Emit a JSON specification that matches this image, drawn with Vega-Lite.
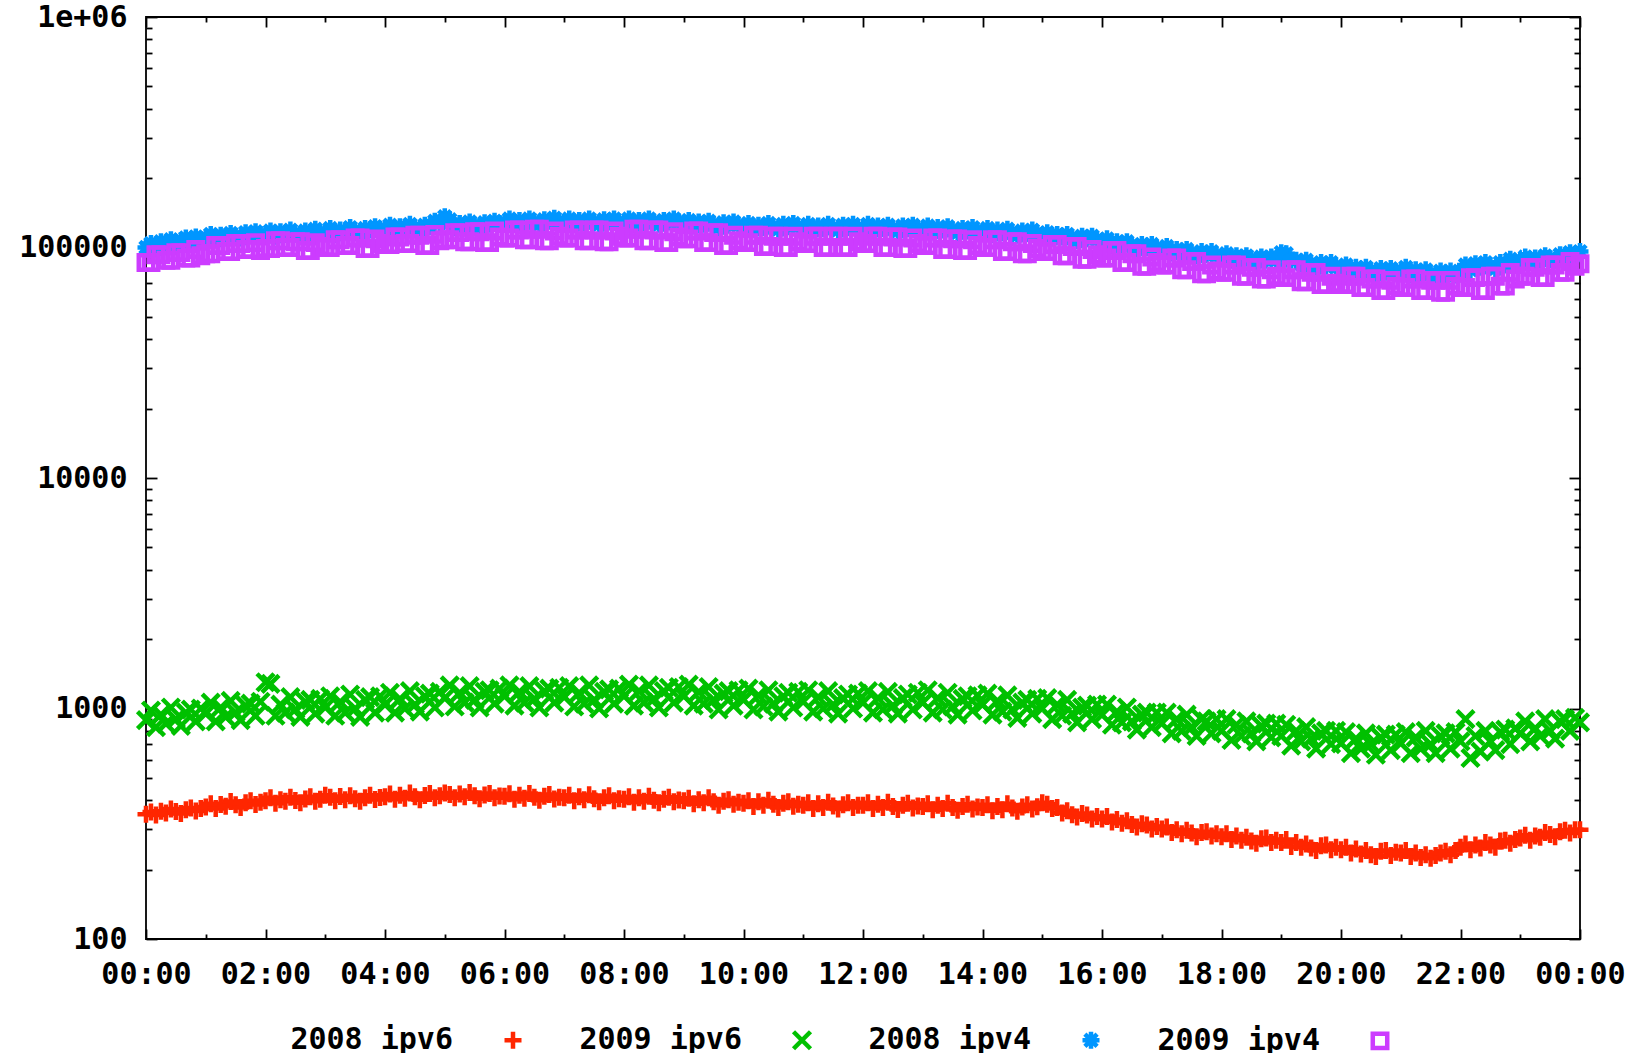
{
"$schema": "https://vega.github.io/schema/vega-lite/v6.json",
"width": 1434, "height": 922,
"autosize": {"type": "none"},
"padding": {"left": 146, "top": 17, "right": 57, "bottom": 114},
"background": "white",
"config": {
  "view": {"stroke": "#000", "strokeWidth": 1.8},
  "axis": {"labelFont": "DejaVu Sans Mono", "labelFontWeight": "bold", "labelFontSize": 30, "labelColor": "#000", "tickColor": "#000", "tickWidth": 1.8, "domain": false, "grid": false, "title": null, "labelFlush": false, "labelOverlap": false, "labelBound": false}
},
"datasets": {
"frame": [{"m": 0, "v": 100}, {"m": 1440, "v": 1000000}],
"traffic": [
{"m":0,"a":348,"b":890,"c":100000,"d":86000},{"m":5,"a":356,"b":980,"c":104000,"d":86000},{"m":10,"a":345,"b":830,"c":99000,"d":93000},{"m":15,"a":358,"b":940,"c":106000,"d":93000},{"m":20,"a":352,"b":860,"c":103000,"d":88000},{"m":25,"a":366,"b":1010,"c":108000,"d":88000},{"m":30,"a":357,"b":900,"c":104000,"d":95000},{"m":35,"a":350,"b":840,"c":107000,"d":95000},{"m":40,"a":364,"b":960,"c":110000,"d":90000},{"m":45,"a":370,"b":990,"c":106000,"d":90000},{"m":50,"a":359,"b":880,"c":111000,"d":98000},{"m":55,"a":368,"b":1000,"c":108000,"d":92000},
{"m":60,"a":374,"b":950,"c":110000,"d":94000},{"m":65,"a":386,"b":1060,"c":114000,"d":94000},{"m":70,"a":368,"b":880,"c":108000,"d":102000},{"m":75,"a":383,"b":1010,"c":113000,"d":102000},{"m":80,"a":377,"b":920,"c":111000,"d":96000},{"m":85,"a":395,"b":1080,"c":115000,"d":96000},{"m":90,"a":382,"b":960,"c":112000,"d":104000},{"m":95,"a":372,"b":890,"c":110000,"d":104000},{"m":100,"a":390,"b":1030,"c":116000,"d":98000},{"m":105,"a":398,"b":1050,"c":113000,"d":98000},{"m":110,"a":383,"b":930,"c":117000,"d":105000},{"m":115,"a":392,"b":1070,"c":114000,"d":97000},
{"m":120,"a":398,"b":1300,"c":114000,"d":99000},{"m":125,"a":410,"b":1280,"c":118000,"d":99000},{"m":130,"a":388,"b":930,"c":112000,"d":107000},{"m":135,"a":402,"b":1040,"c":117000,"d":107000},{"m":140,"a":396,"b":960,"c":114000,"d":100000},{"m":145,"a":412,"b":1120,"c":119000,"d":100000},{"m":150,"a":399,"b":990,"c":115000,"d":106000},{"m":155,"a":390,"b":920,"c":113000,"d":106000},{"m":160,"a":405,"b":1070,"c":118000,"d":97000},{"m":165,"a":414,"b":1090,"c":116000,"d":97000},{"m":170,"a":396,"b":950,"c":120000,"d":105000},{"m":175,"a":404,"b":1100,"c":116000,"d":101000},
{"m":180,"a":420,"b":1010,"c":116000,"d":100000},{"m":185,"a":412,"b":1130,"c":121000,"d":100000},{"m":190,"a":398,"b":930,"c":114000,"d":108000},{"m":195,"a":415,"b":1070,"c":119000,"d":108000},{"m":200,"a":402,"b":960,"c":117000,"d":102000},{"m":205,"a":418,"b":1150,"c":122000,"d":102000},{"m":210,"a":406,"b":1000,"c":118000,"d":110000},{"m":215,"a":396,"b":920,"c":115000,"d":110000},{"m":220,"a":410,"b":1090,"c":121000,"d":99000},{"m":225,"a":420,"b":1120,"c":119000,"d":99000},{"m":230,"a":403,"b":960,"c":123000,"d":109000},{"m":235,"a":411,"b":1130,"c":120000,"d":104000},
{"m":240,"a":414,"b":1040,"c":120000,"d":103000},{"m":245,"a":426,"b":1170,"c":125000,"d":103000},{"m":250,"a":404,"b":960,"c":118000,"d":111000},{"m":255,"a":420,"b":1100,"c":123000,"d":111000},{"m":260,"a":408,"b":1000,"c":121000,"d":104000},{"m":265,"a":430,"b":1190,"c":126000,"d":104000},{"m":270,"a":414,"b":1040,"c":122000,"d":113000},{"m":275,"a":402,"b":970,"c":119000,"d":113000},{"m":280,"a":419,"b":1130,"c":125000,"d":102000},{"m":285,"a":428,"b":1160,"c":123000,"d":102000},{"m":290,"a":410,"b":1010,"c":130000,"d":114000},{"m":295,"a":418,"b":1180,"c":128000,"d":107000},
{"m":300,"a":430,"b":1110,"c":136000,"d":108000},{"m":305,"a":424,"b":1260,"c":132000,"d":108000},{"m":310,"a":410,"b":1020,"c":122000,"d":116000},{"m":315,"a":426,"b":1170,"c":127000,"d":116000},{"m":320,"a":414,"b":1060,"c":124000,"d":106000},{"m":325,"a":432,"b":1250,"c":129000,"d":106000},{"m":330,"a":418,"b":1090,"c":125000,"d":117000},{"m":335,"a":406,"b":1010,"c":122000,"d":117000},{"m":340,"a":421,"b":1180,"c":128000,"d":105000},{"m":345,"a":428,"b":1200,"c":126000,"d":105000},{"m":350,"a":410,"b":1050,"c":130000,"d":118000},{"m":355,"a":417,"b":1220,"c":127000,"d":111000},
{"m":360,"a":416,"b":1130,"c":128000,"d":110000},{"m":365,"a":427,"b":1260,"c":133000,"d":110000},{"m":370,"a":404,"b":1030,"c":126000,"d":119000},{"m":375,"a":420,"b":1180,"c":131000,"d":119000},{"m":380,"a":408,"b":1060,"c":128000,"d":108000},{"m":385,"a":428,"b":1250,"c":133000,"d":108000},{"m":390,"a":412,"b":1100,"c":129000,"d":120000},{"m":395,"a":400,"b":1010,"c":126000,"d":120000},{"m":400,"a":416,"b":1190,"c":132000,"d":107000},{"m":405,"a":424,"b":1220,"c":130000,"d":107000},{"m":410,"a":405,"b":1060,"c":134000,"d":118000},{"m":415,"a":412,"b":1230,"c":130000,"d":112000},
{"m":420,"a":410,"b":1120,"c":128000,"d":110000},{"m":425,"a":420,"b":1250,"c":133000,"d":110000},{"m":430,"a":398,"b":1020,"c":126000,"d":119000},{"m":435,"a":414,"b":1170,"c":131000,"d":119000},{"m":440,"a":402,"b":1050,"c":128000,"d":107000},{"m":445,"a":422,"b":1260,"c":133000,"d":107000},{"m":450,"a":406,"b":1090,"c":129000,"d":119000},{"m":455,"a":394,"b":1000,"c":126000,"d":119000},{"m":460,"a":410,"b":1180,"c":132000,"d":106000},{"m":465,"a":418,"b":1210,"c":129000,"d":106000},{"m":470,"a":398,"b":1050,"c":133000,"d":118000},{"m":475,"a":406,"b":1220,"c":129000,"d":112000},
{"m":480,"a":404,"b":1130,"c":128000,"d":110000},{"m":485,"a":414,"b":1270,"c":133000,"d":110000},{"m":490,"a":392,"b":1030,"c":126000,"d":120000},{"m":495,"a":410,"b":1190,"c":131000,"d":120000},{"m":500,"a":396,"b":1060,"c":128000,"d":107000},{"m":505,"a":416,"b":1260,"c":133000,"d":107000},{"m":510,"a":400,"b":1100,"c":129000,"d":119000},{"m":515,"a":390,"b":1010,"c":126000,"d":119000},{"m":520,"a":404,"b":1190,"c":131000,"d":105000},{"m":525,"a":412,"b":1230,"c":129000,"d":105000},{"m":530,"a":394,"b":1060,"c":133000,"d":117000},{"m":535,"a":401,"b":1240,"c":129000,"d":111000},
{"m":540,"a":398,"b":1130,"c":127000,"d":109000},{"m":545,"a":408,"b":1270,"c":131000,"d":109000},{"m":550,"a":386,"b":1030,"c":124000,"d":118000},{"m":555,"a":402,"b":1180,"c":129000,"d":118000},{"m":560,"a":390,"b":1050,"c":126000,"d":105000},{"m":565,"a":410,"b":1240,"c":130000,"d":105000},{"m":570,"a":394,"b":1090,"c":126000,"d":116000},{"m":575,"a":380,"b":990,"c":122000,"d":116000},{"m":580,"a":396,"b":1160,"c":128000,"d":102000},{"m":585,"a":402,"b":1190,"c":125000,"d":102000},{"m":590,"a":384,"b":1030,"c":129000,"d":113000},{"m":595,"a":392,"b":1200,"c":125000,"d":107000},
{"m":600,"a":388,"b":1090,"c":122000,"d":105000},{"m":605,"a":398,"b":1220,"c":127000,"d":105000},{"m":610,"a":376,"b":990,"c":120000,"d":113000},{"m":615,"a":394,"b":1140,"c":125000,"d":113000},{"m":620,"a":380,"b":1020,"c":122000,"d":101000},{"m":625,"a":400,"b":1200,"c":127000,"d":101000},{"m":630,"a":384,"b":1050,"c":123000,"d":112000},{"m":635,"a":372,"b":970,"c":120000,"d":112000},{"m":640,"a":388,"b":1130,"c":126000,"d":100000},{"m":645,"a":394,"b":1170,"c":123000,"d":100000},{"m":650,"a":377,"b":1010,"c":127000,"d":112000},{"m":655,"a":384,"b":1180,"c":123000,"d":106000},
{"m":660,"a":380,"b":1070,"c":121000,"d":104000},{"m":665,"a":390,"b":1200,"c":126000,"d":104000},{"m":670,"a":368,"b":970,"c":119000,"d":112000},{"m":675,"a":386,"b":1120,"c":124000,"d":112000},{"m":680,"a":372,"b":1000,"c":121000,"d":100000},{"m":685,"a":392,"b":1190,"c":126000,"d":100000},{"m":690,"a":378,"b":1040,"c":122000,"d":112000},{"m":695,"a":366,"b":950,"c":119000,"d":112000},{"m":700,"a":382,"b":1110,"c":125000,"d":100000},{"m":705,"a":390,"b":1150,"c":122000,"d":100000},{"m":710,"a":372,"b":1000,"c":126000,"d":112000},{"m":715,"a":380,"b":1160,"c":122000,"d":106000},
{"m":720,"a":380,"b":1060,"c":121000,"d":104000},{"m":725,"a":390,"b":1190,"c":126000,"d":104000},{"m":730,"a":368,"b":960,"c":119000,"d":112000},{"m":735,"a":384,"b":1110,"c":124000,"d":112000},{"m":740,"a":372,"b":990,"c":121000,"d":100000},{"m":745,"a":392,"b":1180,"c":125000,"d":100000},{"m":750,"a":376,"b":1030,"c":121000,"d":111000},{"m":755,"a":365,"b":950,"c":118000,"d":111000},{"m":760,"a":380,"b":1110,"c":124000,"d":99000},{"m":765,"a":388,"b":1150,"c":121000,"d":99000},{"m":770,"a":370,"b":990,"c":125000,"d":110000},{"m":775,"a":378,"b":1170,"c":121000,"d":104000},
{"m":780,"a":376,"b":1060,"c":119000,"d":102000},{"m":785,"a":386,"b":1200,"c":124000,"d":102000},{"m":790,"a":364,"b":960,"c":117000,"d":110000},{"m":795,"a":380,"b":1110,"c":122000,"d":110000},{"m":800,"a":368,"b":990,"c":119000,"d":98000},{"m":805,"a":388,"b":1170,"c":123000,"d":98000},{"m":810,"a":372,"b":1020,"c":119000,"d":109000},{"m":815,"a":362,"b":940,"c":116000,"d":109000},{"m":820,"a":376,"b":1100,"c":121000,"d":97000},{"m":825,"a":384,"b":1130,"c":118000,"d":97000},{"m":830,"a":366,"b":980,"c":122000,"d":108000},{"m":835,"a":374,"b":1140,"c":118000,"d":102000},
{"m":840,"a":372,"b":1040,"c":116000,"d":100000},{"m":845,"a":382,"b":1160,"c":121000,"d":100000},{"m":850,"a":360,"b":940,"c":114000,"d":108000},{"m":855,"a":376,"b":1080,"c":119000,"d":108000},{"m":860,"a":364,"b":970,"c":116000,"d":96000},{"m":865,"a":386,"b":1140,"c":120000,"d":96000},{"m":870,"a":370,"b":990,"c":116000,"d":106000},{"m":875,"a":358,"b":910,"c":113000,"d":106000},{"m":880,"a":374,"b":1060,"c":118000,"d":94000},{"m":885,"a":382,"b":1090,"c":115000,"d":94000},{"m":890,"a":366,"b":950,"c":119000,"d":104000},{"m":895,"a":375,"b":1100,"c":115000,"d":99000},
{"m":900,"a":390,"b":1000,"c":112000,"d":96000},{"m":905,"a":384,"b":1110,"c":116000,"d":96000},{"m":910,"a":368,"b":900,"c":110000,"d":103000},{"m":915,"a":372,"b":1040,"c":114000,"d":103000},{"m":920,"a":352,"b":930,"c":111000,"d":92000},{"m":925,"a":360,"b":1090,"c":114000,"d":92000},{"m":930,"a":346,"b":950,"c":110000,"d":101000},{"m":935,"a":338,"b":870,"c":107000,"d":101000},{"m":940,"a":350,"b":1010,"c":112000,"d":89000},{"m":945,"a":345,"b":1030,"c":109000,"d":89000},{"m":950,"a":332,"b":900,"c":112000,"d":98000},{"m":955,"a":340,"b":1040,"c":108000,"d":93000},
{"m":960,"a":332,"b":937,"c":105000,"d":90000},{"m":965,"a":340,"b":1040,"c":109000,"d":90000},{"m":970,"a":322,"b":850,"c":102000,"d":97000},{"m":975,"a":330,"b":970,"c":106000,"d":97000},{"m":980,"a":318,"b":870,"c":103000,"d":86000},{"m":985,"a":326,"b":1010,"c":106000,"d":86000},{"m":990,"a":314,"b":880,"c":102000,"d":94000},{"m":995,"a":306,"b":810,"c":99000,"d":94000},{"m":1000,"a":316,"b":940,"c":103000,"d":83000},{"m":1005,"a":312,"b":960,"c":100000,"d":83000},{"m":1010,"a":300,"b":830,"c":103000,"d":91000},{"m":1015,"a":308,"b":960,"c":99000,"d":86000},
{"m":1020,"a":300,"b":862,"c":97000,"d":84000},{"m":1025,"a":306,"b":960,"c":101000,"d":84000},{"m":1030,"a":290,"b":780,"c":95000,"d":90000},{"m":1035,"a":298,"b":900,"c":98000,"d":90000},{"m":1040,"a":286,"b":800,"c":95000,"d":80000},{"m":1045,"a":296,"b":940,"c":98000,"d":80000},{"m":1050,"a":288,"b":830,"c":94000,"d":87000},{"m":1055,"a":278,"b":760,"c":92000,"d":87000},{"m":1060,"a":290,"b":900,"c":96000,"d":77000},{"m":1065,"a":292,"b":880,"c":93000,"d":77000},{"m":1070,"a":280,"b":780,"c":96000,"d":84000},{"m":1075,"a":286,"b":900,"c":92000,"d":79000},
{"m":1080,"a":278,"b":800,"c":90000,"d":78000},{"m":1085,"a":286,"b":900,"c":94000,"d":78000},{"m":1090,"a":270,"b":730,"c":88000,"d":84000},{"m":1095,"a":280,"b":850,"c":92000,"d":84000},{"m":1100,"a":268,"b":760,"c":89000,"d":75000},{"m":1105,"a":276,"b":880,"c":92000,"d":75000},{"m":1110,"a":266,"b":780,"c":89000,"d":82000},{"m":1115,"a":260,"b":720,"c":87000,"d":82000},{"m":1120,"a":272,"b":840,"c":91000,"d":73000},{"m":1125,"a":274,"b":860,"c":88000,"d":73000},{"m":1130,"a":262,"b":750,"c":91000,"d":80000},{"m":1135,"a":268,"b":860,"c":88000,"d":75000},
{"m":1140,"a":262,"b":760,"c":95000,"d":74000},{"m":1145,"a":270,"b":850,"c":94000,"d":74000},{"m":1150,"a":252,"b":690,"c":88000,"d":80000},{"m":1155,"a":262,"b":800,"c":88000,"d":80000},{"m":1160,"a":250,"b":720,"c":85000,"d":71000},{"m":1165,"a":258,"b":830,"c":88000,"d":71000},{"m":1170,"a":248,"b":740,"c":84000,"d":78000},{"m":1175,"a":242,"b":670,"c":82000,"d":78000},{"m":1180,"a":254,"b":780,"c":86000,"d":69000},{"m":1185,"a":256,"b":800,"c":83000,"d":69000},{"m":1190,"a":244,"b":700,"c":86000,"d":75000},{"m":1195,"a":250,"b":800,"c":82000,"d":70000},
{"m":1200,"a":244,"b":706,"c":80000,"d":69000},{"m":1205,"a":250,"b":790,"c":84000,"d":69000},{"m":1210,"a":236,"b":640,"c":78000,"d":75000},{"m":1215,"a":246,"b":740,"c":82000,"d":75000},{"m":1220,"a":234,"b":670,"c":79000,"d":67000},{"m":1225,"a":242,"b":780,"c":82000,"d":67000},{"m":1230,"a":232,"b":700,"c":79000,"d":73000},{"m":1235,"a":228,"b":630,"c":77000,"d":73000},{"m":1240,"a":240,"b":750,"c":81000,"d":65000},{"m":1245,"a":242,"b":770,"c":78000,"d":65000},{"m":1250,"a":230,"b":660,"c":81000,"d":72000},{"m":1255,"a":238,"b":770,"c":78000,"d":68000},
{"m":1260,"a":236,"b":706,"c":78000,"d":67000},{"m":1265,"a":242,"b":790,"c":82000,"d":67000},{"m":1270,"a":228,"b":640,"c":76000,"d":73000},{"m":1275,"a":236,"b":750,"c":80000,"d":73000},{"m":1280,"a":226,"b":670,"c":77000,"d":65000},{"m":1285,"a":232,"b":800,"c":80000,"d":65000},{"m":1290,"a":224,"b":700,"c":77000,"d":72000},{"m":1295,"a":230,"b":640,"c":75000,"d":72000},{"m":1300,"a":236,"b":760,"c":79000,"d":64000},{"m":1305,"a":240,"b":780,"c":76000,"d":64000},{"m":1310,"a":232,"b":670,"c":79000,"d":72000},{"m":1315,"a":242,"b":790,"c":76000,"d":68000},
{"m":1320,"a":250,"b":720,"c":78000,"d":67000},{"m":1325,"a":258,"b":900,"c":84000,"d":67000},{"m":1330,"a":244,"b":610,"c":80000,"d":74000},{"m":1335,"a":256,"b":760,"c":85000,"d":74000},{"m":1340,"a":248,"b":650,"c":82000,"d":65000},{"m":1345,"a":262,"b":800,"c":86000,"d":65000},{"m":1350,"a":256,"b":720,"c":83000,"d":75000},{"m":1355,"a":250,"b":660,"c":81000,"d":75000},{"m":1360,"a":266,"b":790,"c":86000,"d":68000},{"m":1365,"a":268,"b":810,"c":84000,"d":68000},{"m":1370,"a":260,"b":700,"c":89000,"d":78000},{"m":1375,"a":270,"b":820,"c":86000,"d":73000},
{"m":1380,"a":274,"b":780,"c":87000,"d":75000},{"m":1385,"a":282,"b":880,"c":91000,"d":75000},{"m":1390,"a":268,"b":720,"c":86000,"d":82000},{"m":1395,"a":280,"b":820,"c":90000,"d":82000},{"m":1400,"a":276,"b":760,"c":88000,"d":74000},{"m":1405,"a":290,"b":900,"c":92000,"d":74000},{"m":1410,"a":284,"b":800,"c":89000,"d":84000},{"m":1415,"a":278,"b":740,"c":88000,"d":84000},{"m":1420,"a":292,"b":880,"c":93000,"d":78000},{"m":1425,"a":296,"b":900,"c":91000,"d":78000},{"m":1430,"a":288,"b":800,"c":95000,"d":87000},{"m":1435,"a":298,"b":910,"c":93000,"d":83000},
{"m":1440,"a":298,"b":870,"c":96000,"d":85000}
]
},
"layer": [
{
  "data": {"name": "traffic"},
  "transform": [{"fold": ["a", "b", "c", "d"], "as": ["k", "v"]}],
  "mark": {"type": "point", "filled": false, "opacity": 1},
  "encoding": {
    "x": {"field": "m", "type": "quantitative", "scale": {"domain": [0, 1440], "nice": false, "zero": false},
      "axis": {"orient": "bottom", "values": [0,120,240,360,480,600,720,840,960,1080,1200,1320,1440], "labelExpr": "(datum.value % 1440 < 600 ? '0' : '') + floor((datum.value % 1440) / 60) + ':00'", "ticks": false, "labelPadding": 20}},
    "y": {"field": "v", "type": "quantitative", "scale": {"type": "log", "domain": [100, 1000000], "nice": false},
      "axis": {"orient": "left", "values": [100, 1000, 10000, 100000, 1000000], "labelExpr": "datum.value >= 1000000 ? '1e+06' : format(datum.value, 'd')", "ticks": false, "labelPadding": 19}},
    "color": {"field": "k", "type": "nominal", "scale": {"domain": ["a", "b", "c", "d"], "range": ["#ff2600", "#00c000", "#0096ff", "#cc3cff"]},
      "legend": {"orient": "none", "legendX": 112, "legendY": 1008, "direction": "horizontal", "title": null,
        "labelExpr": "datum.label == 'a' ? '2008 ipv6' : datum.label == 'b' ? '2009 ipv6' : datum.label == 'c' ? '2008 ipv4' : '2009 ipv4'",
        "labelFont": "DejaVu Sans Mono", "labelFontWeight": "bold", "labelFontSize": 30, "labelColor": "#000", "labelLimit": 0,
        "labelAlign": "right", "labelOffset": -75, "symbolOffset": 240,
        "symbolSize": 420, "symbolStrokeWidth": 4.5, "columnPadding": 16, "padding": 0}},
    "shape": {"field": "k", "type": "nominal", "scale": {"domain": ["a", "b", "c", "d"], "range": ["M-1,0L1,0M0,-1L0,1", "M-1,-1L1,1M-1,1L1,-1", "M-1,0L1,0M0,-1L0,1M-0.72,-0.72L0.72,0.72M-0.72,0.72L0.72,-0.72", "M-0.85,-0.85L0.85,-0.85L0.85,0.85L-0.85,0.85Z"]}},
    "strokeWidth": {"field": "k", "type": "nominal", "scale": {"domain": ["a", "b", "c", "d"], "range": [4.5, 4.5, 4, 6.5]}, "legend": null},
    "size": {"field": "k", "type": "nominal", "scale": {"domain": ["a", "b", "c", "d"], "range": [289, 289, 289, 361]}, "legend": null},
    "order": {"field": "k", "type": "ordinal", "sort": "ascending"}
  }
},
{
  "data": {"name": "frame"},
  "mark": {"type": "point", "opacity": 0},
  "encoding": {
    "x": {"field": "m", "type": "quantitative", "scale": {"domain": [0, 1440], "nice": false, "zero": false},
      "axis": {"orient": "bottom", "values": [0,120,240,360,480,600,720,840,960,1080,1200,1320,1440], "labels": false, "tickSize": 10, "offset": -10}},
    "y": {"field": "v", "type": "quantitative", "scale": {"type": "log", "domain": [100, 1000000], "nice": false},
      "axis": {"orient": "left", "values": [100, 1000, 10000, 100000, 1000000], "labels": false, "tickSize": 11, "offset": -11}}
  }
},
{
  "data": {"name": "frame"},
  "mark": {"type": "point", "opacity": 0},
  "encoding": {
    "x": {"field": "m", "type": "quantitative", "scale": {"domain": [0, 1440], "nice": false, "zero": false},
      "axis": {"orient": "top", "values": [0,120,240,360,480,600,720,840,960,1080,1200,1320,1440], "labels": false, "tickSize": 10, "offset": -10}},
    "y": {"field": "v", "type": "quantitative", "scale": {"type": "log", "domain": [100, 1000000], "nice": false},
      "axis": {"orient": "right", "values": [100, 1000, 10000, 100000, 1000000], "labels": false, "tickSize": 11, "offset": -11}}
  }
},
{
  "data": {"name": "frame"},
  "mark": {"type": "point", "opacity": 0},
  "encoding": {
    "x": {"field": "m", "type": "quantitative", "scale": {"domain": [0, 1440], "nice": false, "zero": false},
      "axis": {"orient": "bottom", "values": [60,180,300,420,540,660,780,900,1020,1140,1260,1380], "labels": false, "tickSize": 5, "offset": -5}},
    "y": {"field": "v", "type": "quantitative", "scale": {"type": "log", "domain": [100, 1000000], "nice": false},
      "axis": {"orient": "left", "values": [200,300,400,500,600,700,800,900,2000,3000,4000,5000,6000,7000,8000,9000,20000,30000,40000,50000,60000,70000,80000,90000,200000,300000,400000,500000,600000,700000,800000,900000], "labels": false, "tickSize": 6, "offset": -6}}
  }
},
{
  "data": {"name": "frame"},
  "mark": {"type": "point", "opacity": 0},
  "encoding": {
    "x": {"field": "m", "type": "quantitative", "scale": {"domain": [0, 1440], "nice": false, "zero": false},
      "axis": {"orient": "top", "values": [60,180,300,420,540,660,780,900,1020,1140,1260,1380], "labels": false, "tickSize": 5, "offset": -5}},
    "y": {"field": "v", "type": "quantitative", "scale": {"type": "log", "domain": [100, 1000000], "nice": false},
      "axis": {"orient": "right", "values": [200,300,400,500,600,700,800,900,2000,3000,4000,5000,6000,7000,8000,9000,20000,30000,40000,50000,60000,70000,80000,90000,200000,300000,400000,500000,600000,700000,800000,900000], "labels": false, "tickSize": 6, "offset": -6}}
  }
}
],
"resolve": {"axis": {"x": "independent", "y": "independent"}}
}
